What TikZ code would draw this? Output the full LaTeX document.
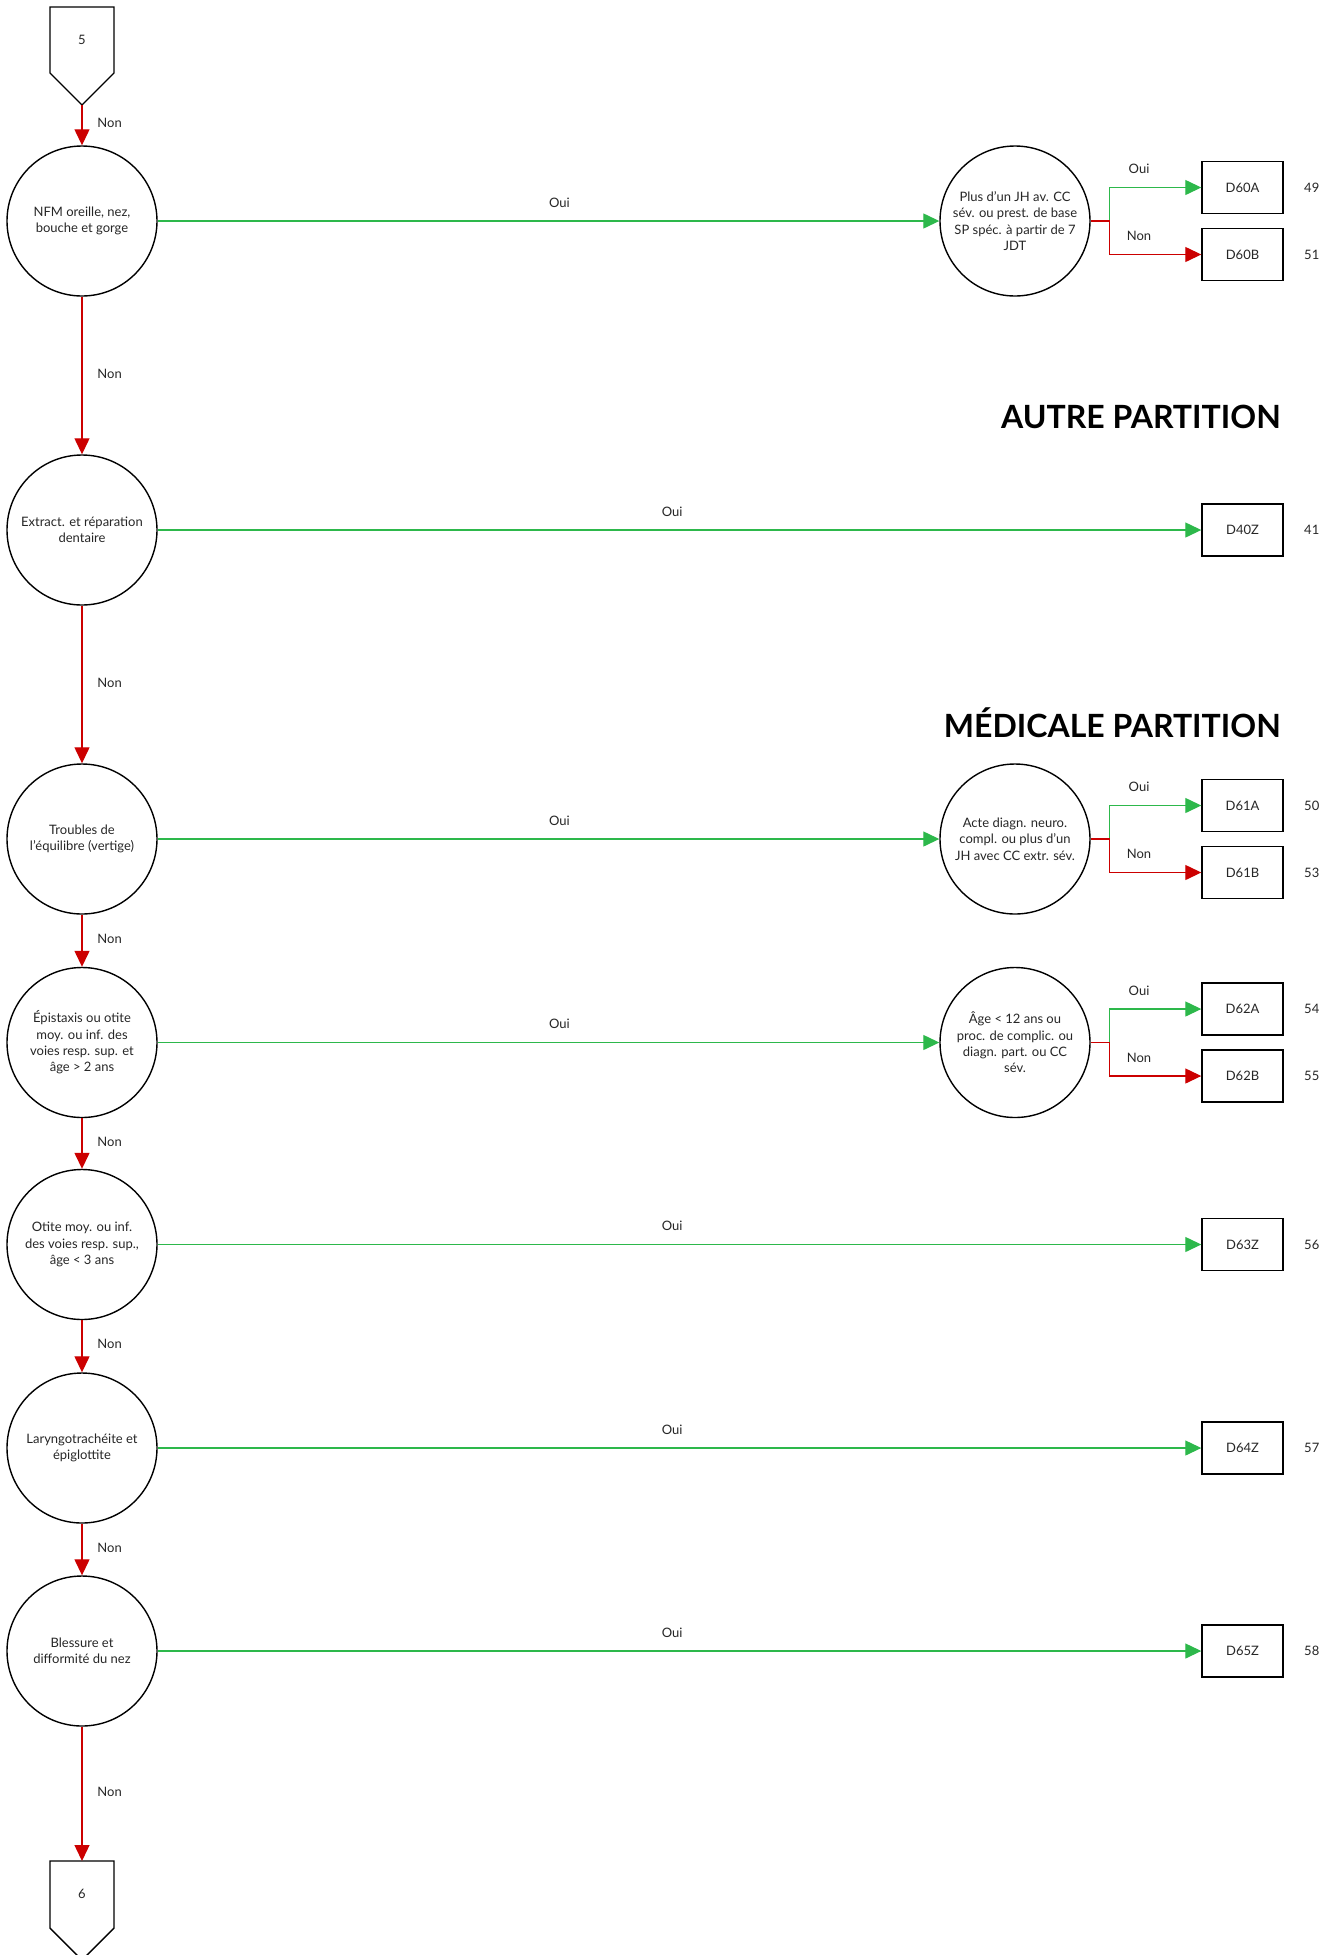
\documentclass[tikz,border=0pt]{standalone}
\usepackage{fontspec}
\setmainfont{Lato}
\usepackage{xcolor}
\definecolor{oui}{HTML}{2DB84B}
\definecolor{non}{HTML}{CC0000}
\definecolor{ink}{HTML}{262626}
\usetikzlibrary{arrows.meta, positioning}

\newcommand{\txt}{\fontsize{13}{16.4}\selectfont}

\begin{document}
\begin{tikzpicture}[
  x=1pt, y=-1pt,
  test/.style={circle, draw, line width=1.4pt, minimum size=150pt,
               inner sep=1pt, align=center, font=\txt, text=ink},
  dest/.style={draw, line width=1.4pt, minimum width=81pt,
               minimum height=52pt, font=\txt, text=ink},
  offpage/.style={draw, line width=1.4pt},
  yes/.style={-{Triangle[length=16pt, width=15pt]}, line width=1.3pt, oui},
  no/.style={-{Triangle[length=16pt, width=15pt]}, line width=1.3pt, non},
  olbl/.style={above=9.5pt, font=\txt, ink},
  nlbl/.style={right=11.5pt, yshift=2pt, font=\txt, ink},
  num/.style={font=\txt, ink},
  title/.style={anchor=base east, inner sep=0pt,
                font=\fontsize{32}{38}\selectfont\bfseries}
]
\useasboundingbox (0,0) rectangle (1338,1955);

% off-page connectors
\draw[offpage] (50,7) -- (114,7) -- (114,73) -- (82,105) -- (50,73) -- cycle;
\node[font=\txt, ink] (off5) at (82,40) {5};
\coordinate (off5tip) at (82,105);

\draw[offpage] (50,1861) -- (114,1861) -- (114,1928) -- (82,1960) -- (50,1928) -- cycle;
\node[font=\txt, ink] (off6) at (82,1894) {6};
\coordinate (off6top) at (82,1861);

% titles
\node[title] (autre) at (1281,428) {AUTRE PARTITION};
\node[title] (medic) at (1281,737) {MÉDICALE PARTITION};

% main column
\node[test] (nfm)     at (82,221)    {NFM oreille, nez,\\bouche et gorge};
\node[test] (extract) at (82,530)    {Extract. et réparation\\dentaire};
\node[test] (vertige) at (82,839)    {Troubles de\\l’équilibre (vertige)};
\node[test] (epist)   at (82,1042.5) {Épistaxis ou otite\\moy. ou inf. des\\voies resp. sup. et\\âge > 2 ans};
\node[test] (otite)   at (82,1244.5) {Otite moy. ou inf.\\des voies resp. sup.,\\âge < 3 ans};
\node[test] (laryn)   at (82,1448)   {Laryngotrachéite et\\épiglottite};
\node[test] (bless)   at (82,1651)   {Blessure et\\difformité du nez};

% second tests
\node[test] (plus) at (1015,221)    {Plus d’un JH av. CC\\sév. ou prest. de base\\SP spéc. à partir de 7\\JDT};
\node[test] (acte) at (1015,839)    {Acte diagn. neuro.\\compl. ou plus d’un\\JH avec CC extr. sév.};
\node[test] (age)  at (1015,1042.5) {Âge < 12 ans ou\\proc. de complic. ou\\diagn. part. ou CC\\sév.};

% results
\node[dest] (d60a) at (1242.5,187.5)  {D60A};
\node[dest] (d60b) at (1242.5,254.5)  {D60B};
\node[dest] (d40z) at (1242.5,530)    {D40Z};
\node[dest] (d61a) at (1242.5,805.5)  {D61A};
\node[dest] (d61b) at (1242.5,872.5)  {D61B};
\node[dest] (d62a) at (1242.5,1009)   {D62A};
\node[dest] (d62b) at (1242.5,1076)   {D62B};
\node[dest] (d63z) at (1242.5,1244.5) {D63Z};
\node[dest] (d64z) at (1242.5,1448)   {D64Z};
\node[dest] (d65z) at (1242.5,1651)   {D65Z};

\node[num, right=17pt of d60a] (n49) {49};
\node[num, right=17pt of d60b] (n51) {51};
\node[num, right=17pt of d40z] (n41) {41};
\node[num, right=17pt of d61a] (n50) {50};
\node[num, right=17pt of d61b] (n53) {53};
\node[num, right=17pt of d62a] (n54) {54};
\node[num, right=17pt of d62b] (n55) {55};
\node[num, right=17pt of d63z] (n56) {56};
\node[num, right=17pt of d64z] (n57) {57};
\node[num, right=17pt of d65z] (n58) {58};

% Non, down the column
\draw[no] (off5tip) -- node[nlbl]{Non} (nfm);
\draw[no] (nfm)     -- node[nlbl]{Non} (extract);
\draw[no] (extract) -- node[nlbl]{Non} (vertige);
\draw[no] (vertige) -- node[nlbl]{Non} (epist);
\draw[no] (epist)   -- node[nlbl]{Non} (otite);
\draw[no] (otite)   -- node[nlbl]{Non} (laryn);
\draw[no] (laryn)   -- node[nlbl]{Non} (bless);
\draw[no] (bless)   -- node[nlbl]{Non} (off6top);

% Oui, across
\draw[yes] (nfm)     -- node[olbl, pos=0.514]{Oui} (plus);
\draw[yes] (extract) -- node[olbl, pos=0.493]{Oui} (d40z);
\draw[yes] (vertige) -- node[olbl, pos=0.514]{Oui} (acte);
\draw[yes] (epist)   -- node[olbl, pos=0.514]{Oui} (age);
\draw[yes] (otite)   -- node[olbl, pos=0.493]{Oui} (d63z);
\draw[yes] (laryn)   -- node[olbl, pos=0.493]{Oui} (d64z);
\draw[yes] (bless)   -- node[olbl, pos=0.493]{Oui} (d65z);

% branches
\draw[yes] (plus.east) -- ++(19,0) |- node[olbl, pos=0.66]{Oui} (d60a);
\draw[no]  (plus.east) -- ++(19,0) |- node[olbl, pos=0.66]{Non} (d60b);
\draw[yes] (acte.east) -- ++(19,0) |- node[olbl, pos=0.66]{Oui} (d61a);
\draw[no]  (acte.east) -- ++(19,0) |- node[olbl, pos=0.66]{Non} (d61b);
\draw[yes] (age.east)  -- ++(19,0) |- node[olbl, pos=0.66]{Oui} (d62a);
\draw[no]  (age.east)  -- ++(19,0) |- node[olbl, pos=0.66]{Non} (d62b);

\end{tikzpicture}
\end{document}
